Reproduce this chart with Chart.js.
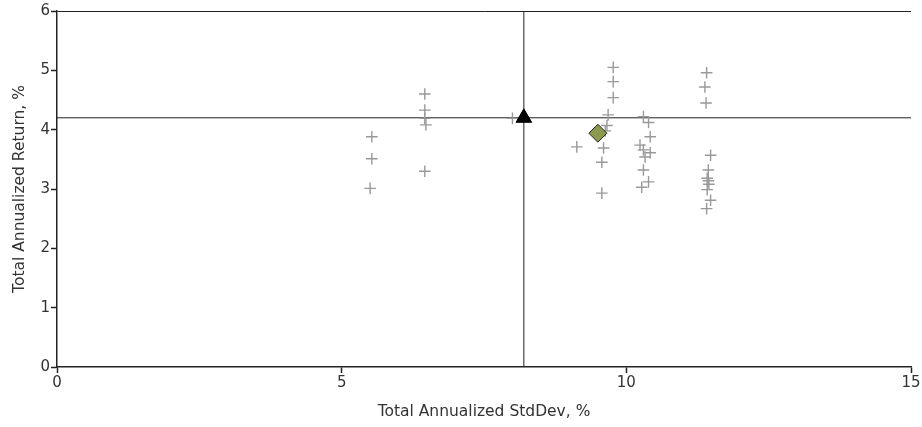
<!DOCTYPE html>
<html>
<head>
<meta charset="utf-8">
<script src="https://cdn.jsdelivr.net/npm/chart.js@4.4.1/dist/chart.umd.min.js"></script>
<style>
html,body{margin:0;padding:0;background:#fff;}
#wrap{width:922px;height:427px;}
</style>
</head>
<body>
<div id="wrap"><canvas id="c" width="922" height="427"></canvas></div>
<script>
const fundStdDev = [5.53,5.53,5.50,6.46,6.46,6.46,6.48,6.46,8.00,
  9.77,9.77,9.77,9.68,9.66,9.63,9.13,9.60,9.57,9.57,
  10.30,10.39,10.42,10.24,10.30,10.42,10.33,10.30,10.39,10.27,
  11.41,11.38,11.40,11.48,11.44,11.42,11.44,11.45,11.42,11.48,11.41];
const fundReturn = [3.88,3.51,3.01,4.60,4.33,4.19,4.08,3.30,4.19,
  5.05,4.81,4.54,4.25,4.07,3.98,3.71,3.69,3.45,2.93,
  4.22,4.12,3.88,3.74,3.66,3.61,3.54,3.32,3.12,3.03,
  4.96,4.72,4.45,3.57,3.32,3.18,3.14,3.08,2.99,2.81,2.67];
const benchmarkPoint = [8.20, 4.20];
const portfolioPoint = [9.50, 3.94];
const xTicks = [0,5,10,15];
const yTicks = [0,1,2,3,4,5,6];

const tickFont = {family: "'DejaVu Sans', sans-serif", size: 15};
const titleFont = {family: "'DejaVu Sans', sans-serif", size: 15.5};
const fundData = fundStdDev.map((x,i)=>({x, y: fundReturn[i]}));

new Chart(document.getElementById('c'), {
  type: 'scatter',
  data: {
    datasets: [
      {label:'vline', type:'line', data:[{x:benchmarkPoint[0],y:0},{x:benchmarkPoint[0],y:6}], borderColor:'#222', borderWidth:1, pointRadius:0, order:3},
      {label:'hline', type:'line', data:[{x:0,y:benchmarkPoint[1]},{x:15,y:benchmarkPoint[1]}], borderColor:'#222', borderWidth:1, pointRadius:0, order:3},
      {label:'Funds', data: fundData, pointStyle:'cross', pointRadius:5.8, borderColor:'#999', borderWidth:1.4, order:2},
      {label:'Benchmark', data:[{x:benchmarkPoint[0],y:benchmarkPoint[1]}], pointStyle:'triangle', pointRadius:9, backgroundColor:'#000', borderColor:'#000', borderWidth:1, order:1},
      {label:'Portfolio', data:[{x:portfolioPoint[0],y:portfolioPoint[1]}], pointStyle:'rectRot', pointRadius:9, backgroundColor:'#8b9a4e', borderColor:'#222', borderWidth:1, order:0}
    ]
  },
  options: {
    responsive:false,
    animation:false,
    events:[],
    layout:{padding:{top:11,right:11,left:0,bottom:0}},
    plugins:{legend:{display:false}, tooltip:{enabled:false}},
    scales:{
      x:{
        type:'linear', min:0, max:15,
        afterBuildTicks: s => { s.ticks = xTicks.map(v=>({value:v})); },
        afterFit: s => { s.height = 60; },
        border:{display:true,color:'#222',width:1.5},
        grid:{drawOnChartArea:false, drawTicks:true, tickLength:6, tickColor:'#222', tickWidth:1.5},
        ticks:{color:'#333', font:tickFont, padding:1, maxRotation:0},
        title:{display:true, text:'Total Annualized StdDev, %', color:'#333', font:titleFont, padding:{top:0,bottom:6}}
      },
      y:{
        type:'linear', min:0, max:6,
        afterBuildTicks: s => { s.ticks = yTicks.map(v=>({value:v})); },
        afterFit: s => { s.width = 57; },
        border:{display:true,color:'#222',width:1.5},
        grid:{drawOnChartArea:true, color: ctx => (ctx.tick && ctx.tick.value===6) ? '#222' : 'rgba(0,0,0,0)', lineWidth:1, drawTicks:true, tickLength:6, tickColor:'#222', tickWidth:1.5},
        ticks:{color:'#333', font:tickFont, padding:1},
        title:{display:true, text:'Total Annualized Return, %', color:'#333', font:titleFont, padding:{top:11,bottom:0}}
      }
    }
  }
});
</script>
</body>
</html>
